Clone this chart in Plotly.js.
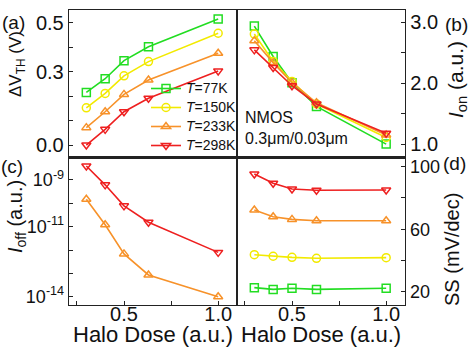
<!DOCTYPE html>
<html>
<head>
<meta charset="utf-8">
<script src="https://cdn.plot.ly/plotly-3.0.1.min.js"></script>
<style>html,body{margin:0;padding:0;background:#fff;}#chart{width:473px;height:347px;}</style>
</head>
<body>
<div id="chart"></div>
<script>
// Halo dose (a.u.)
const dose = [0.3, 0.4, 0.5, 0.63, 1.0];
const tempLabels = ['<i>T</i>=77K', '<i>T</i>=150K', '<i>T</i>=233K', '<i>T</i>=298K'];
// (a) Delta V_TH (V)
const dvth77  = [0.215, 0.271, 0.345, 0.402, 0.515];
const dvth150 = [0.152, 0.211, 0.283, 0.341, 0.457];
const dvth233 = [0.071, 0.136, 0.207, 0.266, 0.375];
const dvth298 = [0.000, 0.064, 0.136, 0.191, 0.303];
// (b) I_on (a.u.)
const ion77  = [2.94, 2.44, 2.01, 1.62, 1.00];
const ion150 = [2.81, 2.36, 2.03, 1.66, 1.11];
const ion233 = [2.70, 2.34, 2.01, 1.68, 1.15];
const ion298 = [2.55, 2.26, 1.96, 1.66, 1.18];
// (c) I_off (a.u.)
const ioff233 = [1.5e-10, 1.2e-11, 6.8e-13, 8.5e-14, 1.0e-14];
const ioff298 = [4.0e-9, 6.2e-10, 7.8e-11, 1.55e-11, 7.9e-13];
// (d) SS (mV/dec)
const ss77  = [22.6, 21.5, 22.2, 21.5, 22.2];
const ss150 = [43.7, 42.7, 42.0, 41.4, 41.8];
const ss233 = [72.3, 68.0, 66.3, 65.4, 65.4];
const ss298 = [95.3, 89.4, 85.7, 84.9, 85.1];
// tick labels
const dvthTicks = [0, 0.1, 0.2, 0.3, 0.4, 0.5];
const dvthText  = ['0.0', '', '', '0.3', '', '0.5'];
const ionTicks = [1.0, 1.5, 2.0, 2.5, 3.0];
const ionText  = ['1.0', '', '2.0', '', '3.0'];
const ioffTicks = [1e-14, 1e-13, 1e-12, 1e-11, 1e-10, 1e-9];
const ioffText  = ['10<sup>-14</sup>', '', '', '10<sup>-11</sup>', '', '10<sup>-9</sup>'];
const ssTicks = [20, 40, 60, 80, 100];
const ssText  = ['20', '', '60', '', '100'];
const doseTicks = [0.25, 0.5, 0.75, 1.0];
const doseText  = ['', '0.5', '', '1.0'];

const colors = ['#22dd22', '#f2ea00', '#f7922a', '#ee2020'];
const symbols = ['square-open', 'circle-open', 'triangle-up-open', 'triangle-down-open'];

function tr(y, i, xa, ya, legend) {
  return {
    x: dose, y: y, xaxis: xa, yaxis: ya, type: 'scatter', mode: 'lines+markers',
    name: '<span style="font-size:14px">' + tempLabels[i] + '</span>', showlegend: legend,
    line: {color: colors[i], width: 1.6},
    marker: {symbol: symbols[i], size: 8, color: colors[i], line: {width: 1.5, color: colors[i]}}
  };
}

const data = [
  tr(dvth77, 0, 'x', 'y', true), tr(dvth150, 1, 'x', 'y', true),
  tr(dvth233, 2, 'x', 'y', true), tr(dvth298, 3, 'x', 'y', true),
  tr(ion77, 0, 'x2', 'y2', false), tr(ion150, 1, 'x2', 'y2', false),
  tr(ion233, 2, 'x2', 'y2', false), tr(ion298, 3, 'x2', 'y2', false),
  tr(ioff233, 2, 'x3', 'y3', false), tr(ioff298, 3, 'x3', 'y3', false),
  tr(ss77, 0, 'x4', 'y4', false), tr(ss150, 1, 'x4', 'y4', false),
  tr(ss233, 2, 'x4', 'y4', false), tr(ss298, 3, 'x4', 'y4', false)
];

const FONT = 'Liberation Sans, Arial, sans-serif';
const lineC = '#222';
function xax(domain, anchor, bottom) {
  return {
    domain: domain, anchor: anchor, range: [0.208, 1.1],
    showline: true, linecolor: lineC, linewidth: 1.3, mirror: true,
    showgrid: false, zeroline: false,
    tickmode: 'array', tickvals: doseTicks, ticktext: doseText,
    ticks: bottom ? 'inside' : '', ticklen: 4, tickcolor: lineC,
    showticklabels: bottom, ticklabelstandoff: -9,
    tickfont: {family: FONT, size: 20, color: '#111'}
  };
}
function yax(domain, anchor, side, extra) {
  return Object.assign({
    domain: domain, anchor: anchor, side: side,
    showline: true, linecolor: lineC, linewidth: 1.3, mirror: true,
    showgrid: false, zeroline: false,
    tickmode: 'array', ticks: 'inside', ticklen: 4, tickcolor: lineC,
    tickfont: {family: FONT, size: 20, color: '#111'}
  }, extra);
}

const L = 69, T = 10, PW = 336, PH = 295;
const px = v => (v - L) / PW;
const py = v => (T + PH - v) / PH;
function ann(text, x, y, size, angle, opts) {
  return Object.assign({
    text: text, xref: 'paper', yref: 'paper', x: px(x), y: py(y),
    xanchor: 'center', yanchor: 'middle', showarrow: false, textangle: angle || 0,
    font: {family: FONT, size: size, color: '#111'}
  }, opts || {});
}

const layout = {
  width: 473, height: 347,
  margin: {l: L, r: 473 - L - PW, t: T, b: 347 - T - PH},
  paper_bgcolor: '#fff', plot_bgcolor: '#fff',
  font: {family: FONT, color: '#111'},
  xaxis: xax([0, 0.5], 'y', false),
  xaxis2: xax([0.5, 1], 'y2', false),
  xaxis3: xax([0, 0.5], 'y3', true),
  xaxis4: xax([0.5, 1], 'y4', true),
  yaxis: yax([0.5, 1], 'x', 'left', {range: [-0.051, 0.552], tickvals: dvthTicks, ticktext: dvthText}),
  yaxis2: yax([0.5, 1], 'x2', 'right', {range: [0.78, 3.205], tickvals: ionTicks, ticktext: ionText}),
  yaxis3: yax([0, 0.5], 'x3', 'left', {type: 'log', range: [-14.357, -8.036], tickvals: ioffTicks, ticktext: ioffText,
                                        tickfont: {family: FONT, size: 18, color: '#111'}}),
  yaxis4: yax([0, 0.5], 'x4', 'right', {range: [11.5, 105.9], tickvals: ssTicks, ticktext: ssText,
                                         tickfont: {family: FONT, size: 18, color: '#111'}}),
  showlegend: true,
  legend: {x: px(146), y: py(74), xanchor: 'left', yanchor: 'top', bgcolor: 'rgba(0,0,0,0)',
           font: {family: FONT, size: 11, color: '#111'}, itemwidth: 30, tracegroupgap: 0},
  annotations: [
    ann('(a)', 13, 22, 19), ann('(c)', 12, 166, 19),
    ann('(b)', 457, 25, 19), ann('(d)', 454, 163, 19),
    ann('ΔV<sub>TH</sub> (V)', 17, 64, 17, -90),
    ann('<i>I</i><sub>off</sub> (a.u.)', 16, 217, 20, -90),
    ann('<i>I</i><sub>on</sub> (a.u.)', 457, 79, 21, -90),
    ann('SS (mV/dec)', 452, 250, 20, -90),
    ann('NMOS<br>0.3μm/0.03μm', 243, 128, 16, 0, {xanchor: 'left', align: 'left'}),
    ann('Halo Dose (a.u.)', 153, 334, 22),
    ann('Halo Dose (a.u.)', 321, 334, 22)
  ]
};

Plotly.newPlot('chart', data, layout, {staticPlot: true, displayModeBar: false});
</script>
</body>
</html>
